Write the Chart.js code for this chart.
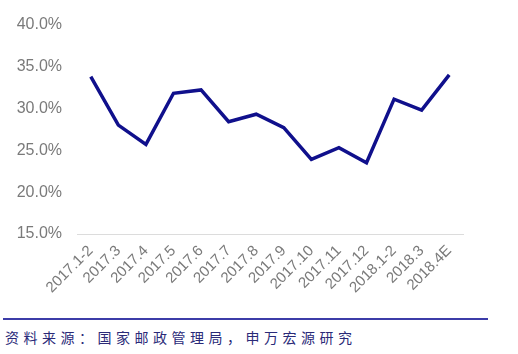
<!DOCTYPE html>
<html>
<head>
<meta charset="utf-8">
<script src="https://cdn.jsdelivr.net/npm/chart.js@4"></script>
<style>
  html, body { margin: 0; padding: 0; background: #fff; width: 518px; height: 354px; overflow: hidden; }
  #wrap { position: absolute; left: 0; top: 0; width: 518px; height: 312px; }
  #rule { position: absolute; left: 3px; top: 318px; width: 485px; height: 2px; background: #3c3ca8; }
  #src { position: absolute; left: 5px; top: 328px; font-family: "Noto Sans CJK SC", sans-serif; font-size: 14px; letter-spacing: 4.5px; color: #2a2a78; white-space: nowrap; line-height: 18px; }
</style>
</head>
<body>
<div id="wrap"><canvas id="c" width="518" height="312"></canvas></div>
<div id="rule"></div>
<div id="src">资料来源：国家邮政管理局，申万宏源研究</div>
<script>
const categories = ["2017.1-2","2017.3","2017.4","2017.5","2017.6","2017.7","2017.8","2017.9","2017.10","2017.11","2017.12","2018.1-2","2018.3","2018.4E"];
const growthRate = [33.8, 28.0, 25.7, 31.8, 32.2, 28.4, 29.3, 27.7, 23.9, 25.3, 23.5, 31.1, 29.8, 34.0];
const yTicks = [15, 20, 25, 30, 35, 40];

new Chart(document.getElementById('c'), {
  type: 'line',
  data: {
    labels: categories,
    datasets: [{
      data: growthRate,
      borderColor: '#10108c',
      borderWidth: 3.5,
      pointRadius: 0,
      tension: 0,
      fill: false
    }]
  },
  options: {
    responsive: false,
    animation: false,
    layout: { padding: { top: 23, right: 55, left: 0, bottom: 0 } },
    plugins: { legend: { display: false }, tooltip: { enabled: false } },
    scales: {
      x: {
        offset: true,
        grid: { display: false, drawTicks: false },
        border: { display: true, color: '#dcdcdc', width: 1 },
        ticks: {
          color: '#7a7a7a',
          font: { family: 'Liberation Sans, Arial, sans-serif', size: 15 },
          minRotation: 45, maxRotation: 45,
          padding: 8,
          autoSkip: false
        },
        afterFit: (s) => { s.height = 78; }
      },
      y: {
        min: 15, max: 40,
        grid: { display: false, drawTicks: false },
        border: { display: false },
        afterBuildTicks: (s) => { s.ticks = yTicks.map(v => ({ value: v })); },
        ticks: {
          color: '#7a7a7a',
          font: { family: 'Liberation Sans, Arial, sans-serif', size: 16 },
          padding: 15,
          callback: (v) => v.toFixed(1) + '%'
        },
        afterFit: (s) => { s.width = 77; }
      }
    }
  }
});
</script>
</body>
</html>
